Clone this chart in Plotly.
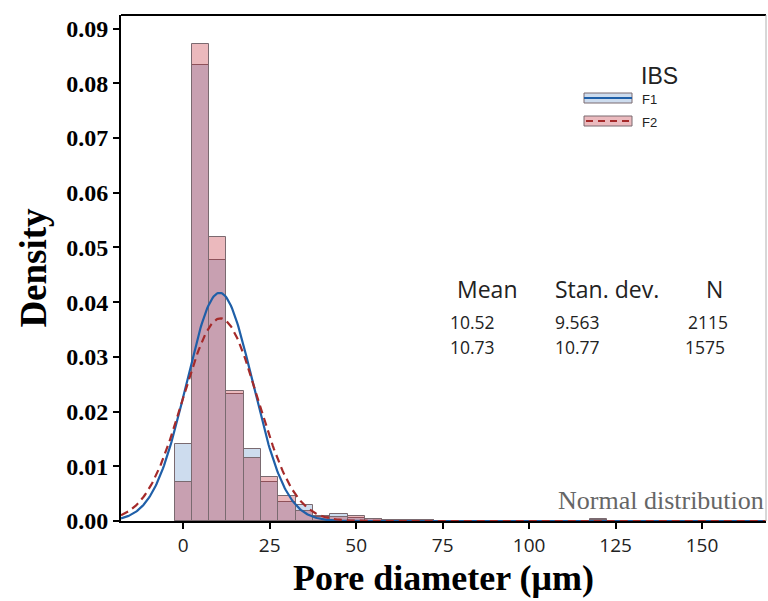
import numpy as np
import plotly.graph_objects as go

# ---- data ----
bin_centers = [0, 5, 10, 15, 20, 25, 30, 35, 40, 45, 50, 55, 60, 65, 70, 120]
f1_density = [0.0141, 0.0834, 0.0477, 0.0232, 0.0131, 0.0072, 0.0035, 0.0030,
              0.0008, 0.0012, 0.0006, 0.0003, 0.0002, 0.0002, 0.0001, 0.0003]
f2_density = [0.0072, 0.0872, 0.0520, 0.0238, 0.0115, 0.0080, 0.0046, 0.0018,
              0.0010, 0.0008, 0.0009, 0.0004, 0.0002, 0.0001, 0.0001, 0.0002]
bin_width = 5

groups = ["F1", "F2"]
means = [10.52, 10.73]
std_devs = [9.563, 10.77]
counts = [2115, 1575]
means_txt = ["10.52", "10.73"]
sd_txt = ["9.563", "10.77"]
n_txt = ["2115", "1575"]

x_ticks = [0, 25, 50, 75, 100, 125, 150]
y_ticks = [0.00, 0.01, 0.02, 0.03, 0.04, 0.05, 0.06, 0.07, 0.08, 0.09]
x_range = [-18.0, 168.5]
y_range = [0.0, 0.0925]

# ---- styles ----
F1_FILL = "#cddcee"
F2_FILL = "rgba(188,22,38,0.30)"
F2_LEGEND_FILL = "#ebbabe"
BAR_EDGE = "#7a6a70"
F1_LINE = "#1f5fa8"
F2_LINE = "#a52a2a"
SERIF = "Liberation Serif"
SANS = "Open Sans"

fig = go.Figure()
fig.add_trace(go.Bar(x=bin_centers, y=f1_density, width=bin_width,
                     marker=dict(color=F1_FILL, line=dict(color=BAR_EDGE, width=1)),
                     name="F1", showlegend=False))
fig.add_trace(go.Bar(x=bin_centers, y=f2_density, width=bin_width,
                     marker=dict(color=F2_FILL, line=dict(color=BAR_EDGE, width=1)),
                     name="F2", showlegend=False))

xs = np.linspace(x_range[0], x_range[1], 600)
for m, s, col, dash in [(means[0], std_devs[0], F1_LINE, "solid"),
                        (means[1], std_devs[1], F2_LINE, "8px,5px")]:
    pdf = np.exp(-0.5 * ((xs - m) / s) ** 2) / (s * np.sqrt(2 * np.pi))
    fig.add_trace(go.Scatter(x=xs, y=pdf, mode="lines",
                             line=dict(color=col, width=2.2, dash=dash),
                             showlegend=False, hoverinfo="skip"))

# plot area geometry in px (for paper-coordinate placement of decorations)
L, R, T, B = 121, 766, 15, 521
W, H = R - L, B - T
def px(x):
    return (x - L) / W
def py(y):
    return (B - y) / H

shapes = []
# frame: top black, right grey
shapes.append(dict(type="line", xref="paper", yref="paper", x0=0, x1=1, y0=1, y1=1,
                   line=dict(color="black", width=2)))
shapes.append(dict(type="line", xref="paper", yref="paper", x0=1, x1=1, y0=0, y1=1,
                   line=dict(color="#b0b0b0", width=1)))
# legend swatches
shapes.append(dict(type="rect", xref="paper", yref="paper", x0=px(584), x1=px(632),
                   y0=py(103), y1=py(93), fillcolor=F1_FILL,
                   line=dict(color=BAR_EDGE, width=1)))
shapes.append(dict(type="line", xref="paper", yref="paper", x0=px(584), x1=px(632),
                   y0=py(98), y1=py(98), line=dict(color=F1_LINE, width=2)))
shapes.append(dict(type="rect", xref="paper", yref="paper", x0=px(584), x1=px(632),
                   y0=py(126), y1=py(116), fillcolor=F2_LEGEND_FILL,
                   line=dict(color=BAR_EDGE, width=1)))
shapes.append(dict(type="line", xref="paper", yref="paper", x0=px(586), x1=px(630),
                   y0=py(121), y1=py(121), line=dict(color=F2_LINE, width=2, dash="7px,5px")))

annotations = []
def txt(text, x, y, size, family=SANS, color="#222222", xanchor="left", bold=False):
    annotations.append(dict(text=f"<b>{text}</b>" if bold else text,
                            xref="paper", yref="paper", x=px(x), y=py(y),
                            xanchor=xanchor, yanchor="middle", showarrow=False,
                            font=dict(family=family, size=size, color=color)))

txt("IBS", 639, 76, 23, family="Liberation Sans Narrow, Liberation Sans")
txt(groups[0], 640, 99, 13, family="Liberation Sans")
txt(groups[1], 640, 122, 13, family="Liberation Sans")

txt("Mean", 455, 289, 23)
txt("Stan. dev.", 553, 289, 23)
txt("N", 725, 289, 23, xanchor="right")
for i, yy in enumerate([322, 347]):
    txt(means_txt[i], 448, yy, 17.5)
    txt(sd_txt[i], 553, yy, 17.5)
    txt(n_txt[i], 730 - 3 * i, yy, 17.5, xanchor="right")

txt("Normal distribution", 766, 500, 26, family=SERIF, color="#666666", xanchor="right")

fig.update_layout(
    width=768, height=601,
    margin=dict(l=L, r=768 - R, t=T, b=601 - B),
    paper_bgcolor="white", plot_bgcolor="white",
    barmode="overlay", bargap=0,
    shapes=shapes, annotations=annotations,
    xaxis=dict(range=x_range, tickvals=x_ticks, ticktext=[str(v) for v in x_ticks],
               showline=True, linecolor="black", linewidth=2,
               ticks="outside", ticklen=6, tickwidth=1.5, tickcolor="black",
               showgrid=False, zeroline=False,
               tickfont=dict(family=SANS, size=19, color="#222222"),
               title=dict(text="<b>Pore diameter (μm)</b>", standoff=6,
                          font=dict(family=SERIF, size=36, color="black"))),
    yaxis=dict(range=y_range, tickvals=y_ticks, ticktext=[f"<b>{v:.2f}</b>" for v in y_ticks],
               showline=True, linecolor="black", linewidth=2,
               ticks="outside", ticklen=6, tickwidth=1.5, tickcolor="black",
               showgrid=False, zeroline=False,
               tickfont=dict(family=SERIF, size=24, color="black"),
               title=dict(text="<b>Density</b>", standoff=8,
                          font=dict(family=SERIF, size=37, color="black"))),
)

fig.write_html("out.html")
